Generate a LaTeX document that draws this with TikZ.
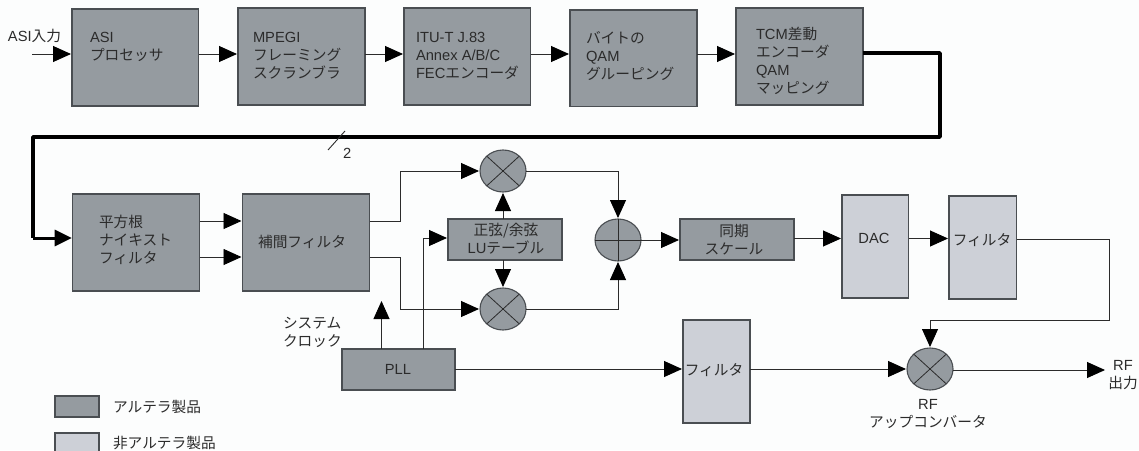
\documentclass[tikz,border=0pt]{standalone}
\usepackage{fontspec}
\setmainfont{Liberation Sans}
\newfontfamily\jpf{Noto Sans CJK JP}
\newcommand{\jp}[1]{{\jpf #1}}
\usetikzlibrary{arrows.meta,shapes.geometric}
\definecolor{alt}{HTML}{959BA0}
\definecolor{nonalt}{HTML}{CDD0D7}
\definecolor{ink}{HTML}{2B2B2B}
\definecolor{edgec}{HTML}{4A4E52}
\definecolor{paper}{HTML}{FCFDFD}
\tikzset{
  blockbase/.style={draw=edgec,line width=1.1pt,inner sep=0pt,outer sep=0pt},
  altbox/.style={blockbase,fill=alt},
  nonbox/.style={blockbase,fill=nonalt},
  opnode/.style={ellipse,draw=edgec,fill=alt,line width=1.1pt,inner sep=0pt,outer sep=0pt,minimum width=46pt,minimum height=42pt},
  opmark/.style={draw=ink,line width=0.8pt},
  txt/.style={text=ink,inner sep=0pt,outer sep=0pt,align=left,font=\fontsize{14.7}{18}\selectfont},
  ctxt/.style={txt,align=center},
  arr/.style={draw=ink,line width=0.9pt,-{Triangle[length=18pt,width=16pt,color=black,fill=black]},shorten >=1pt},
  link/.style={draw=ink,line width=0.9pt},
  thick link/.style={draw=black,line width=3.4pt,line join=round},
  thick arr/.style={draw=black,line width=3pt,-{Triangle[length=17pt,width=16pt]},shorten >=1pt,line join=round},
}
\newcommand{\blk}[6]{\node[#2,minimum width={(#5-#3)*1pt},minimum height={(#6-#4)*1pt}] (#1) at ({(#3+#5)/2},{(#4+#6)/2}) {};}
\begin{document}
\begin{tikzpicture}[x=1pt,y=-1pt]
\useasboundingbox (0,0) rectangle (1139,450);
\fill[paper] (0,0) rectangle (1139,450);
% blocks
\blk{asi}{altbox}{72}{9}{198.5}{106}
\blk{mpeg}{altbox}{238}{8}{365}{105}
\blk{itu}{altbox}{404}{8}{530.5}{105}
\blk{byte}{altbox}{570}{10}{697}{106.5}
\blk{tcm}{altbox}{736}{8}{863}{105}
\blk{root}{altbox}{72.7}{194}{199.6}{291}
\blk{interp}{altbox}{242.5}{194}{369.5}{291}
\blk{table}{altbox}{448}{219}{562}{260}
\blk{sync}{altbox}{680}{219}{794}{260}
\blk{dac}{nonbox}{842}{195}{908.5}{298}
\blk{filta}{nonbox}{949}{196}{1016.5}{299}
\blk{pll}{altbox}{342}{349}{455}{390}
\blk{filtb}{nonbox}{683}{320}{750}{423}
\blk{lega}{altbox}{55}{396}{99}{417}
\blk{legb}{nonbox}{55}{433}{99}{455}
% operators
\node[opnode] (mt) at (503,171) {};
\node[opnode] (mb) at (503,309) {};
\node[opnode] (pl) at (618,240) {};
\node[opnode] (up) at (930,369) {};
\foreach \m in {mt,mb,up}{
  \draw[opmark] (\m.north west) -- (\m.south east);
  \draw[opmark] (\m.north east) -- (\m.south west);
}
\draw[opmark] (pl.west) -- (pl.east);
\draw[opmark] (pl.north) -- (pl.south);
% texts
\node[txt,anchor=west] (tin) at (8,36) {ASI\jp{入力}};
\node[txt,anchor=west] (tasi) at (90,47) {ASI\\\jp{プロセッサ}};
\node[txt,anchor=west] (tmpeg) at (253,56) {MPEGI\\\jp{フレーミング}\\\jp{スクランブラ}};
\node[txt,anchor=west] (titu) at (416,56) {ITU-T J.83\\Annex A/B/C\\FEC\jp{エンコーダ}};
\node[txt,anchor=west] (tbyte) at (586,56) {\jp{バイトの}\\QAM\\\jp{グルーピング}};
\node[txt,anchor=west] (ttcm) at (756,61) {TCM\jp{差動}\\\jp{エンコーダ}\\QAM\\\jp{マッピング}};
\node[txt,anchor=west] (ttwo) at (343,153) {2};
\node[txt,anchor=west] (troot) at (99,240) {\jp{平方根}\\\jp{ナイキスト}\\\jp{フィルタ}};
\node[ctxt] (tint) at (302,242) {\jp{補間フィルタ}};
\node[ctxt] (ttab) at (506,239) {\jp{正弦/余弦}\\LU\jp{テーブル}};
\node[ctxt] (tsync) at (734,240) {\jp{同期}\\\jp{スケール}};
\node[ctxt] (tdac) at (874,238) {DAC};
\node[ctxt] (tfa) at (982,240) {\jp{フィルタ}};
\node[ctxt] (tfb) at (714,370) {\jp{フィルタ}};
\node[ctxt] (tpll) at (398,369) {PLL};
\node[txt,anchor=west] (tclk) at (283,332) {\jp{システム}\\\jp{クロック}};
\node[ctxt] (trf) at (928,414) {RF\\\jp{アップコンバータ}};
\node[ctxt] (tout) at (1123,375) {RF\\\jp{出力}};
\node[txt,anchor=west] (tla) at (113,407) {\jp{アルテラ製品}};
\node[txt,anchor=west] (tlb) at (113,443) {\jp{非アルテラ製品}};
% free ends
\coordinate (inS) at (32,54);
\coordinate (outE) at (1106,370);
\coordinate (clkE) at (381.5,300);
\coordinate (sa) at (328,150);
\coordinate (sb) at (345,131);
% top row
\draw[arr] (inS) -- (asi.west |- inS);
\draw[arr] (asi.east |- 0,54) -- (mpeg.west |- 0,54);
\draw[arr] (mpeg.east |- 0,54) -- (itu.west |- 0,54);
\draw[arr] (itu.east |- 0,54) -- (byte.west |- 0,54);
\draw[arr] (byte.east |- 0,54) -- (tcm.west |- 0,54);
% thick feedback
\draw[thick link] (tcm.east |- 0,53) -- (940,53) -- (940,137) -- (33,137) -- (33,238);
\draw[thick arr] (33,238) -- (root.west |- 0,238);
\draw[link] (sa) -- (sb);
% second row
\draw[arr] (root.east |- 0,221) -- (interp.west |- 0,221);
\draw[arr] (root.east |- 0,257) -- (interp.west |- 0,257);
\draw[arr] (interp.east |- 0,221) -| (400,171) -- (mt.west);
\draw[arr] (interp.east |- 0,257) -| (400,309) -- (mb.west);
\draw[arr] (table.north -| mt) -- (mt.south);
\draw[arr] (table.south -| mb) -- (mb.north);
\draw[arr] (mt.east) -| (pl.north);
\draw[arr] (mb.east) -| (pl.south);
\draw[arr] (pl.east) -- (sync.west |- pl.east);
\draw[arr] (sync.east |- 0,238.5) -- (dac.west |- 0,238.5);
\draw[arr] (dac.east |- 0,238.5) -- (filta.west |- 0,238.5);
\draw[link] (filta.east |- 0,239) -- (1109,239) -- (1109,320) -- (930,320);
\draw[arr] (930,320) -- (up.north);
% PLL
\draw[arr] (pll.north -| clkE) -- (clkE);
\draw[arr] (pll.north -| 423,0) -- (423,238) -- (table.west |- 0,238);
\draw[arr] (pll.east |- 0,369) -- (filtb.west |- 0,369);
\draw[arr] (filtb.east |- 0,369) -- (up.west);
\draw[arr] (up.east |- outE) -- (outE);
\end{tikzpicture}
\end{document}
